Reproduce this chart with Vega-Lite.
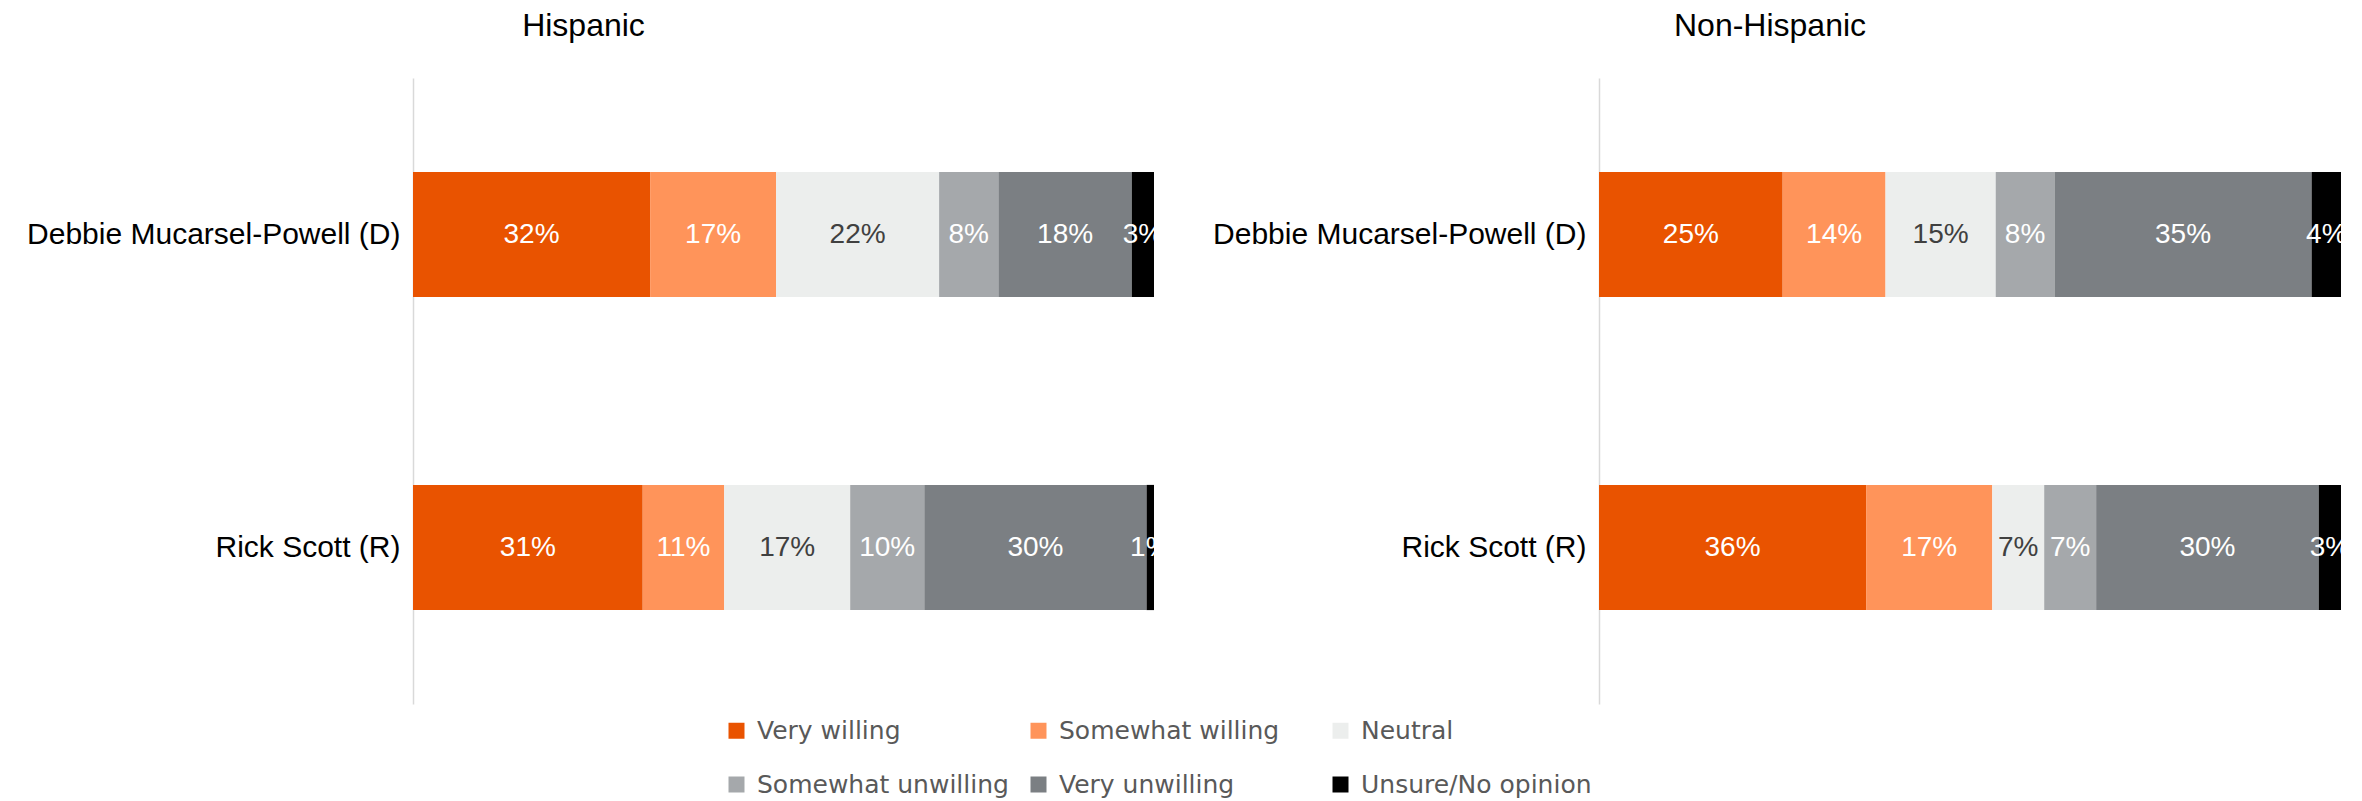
{
  "$schema": "https://vega.github.io/schema/vega-lite/v6.json",
  "padding": {"left": 13, "top": 10, "right": 21, "bottom": 0},
  "background": "white",
  "data": {
    "values": [
      {"group": "Hispanic", "candidate": "Debbie Mucarsel-Powell (D)", "category": "Very willing", "value": 32},
      {"group": "Hispanic", "candidate": "Debbie Mucarsel-Powell (D)", "category": "Somewhat willing", "value": 17},
      {"group": "Hispanic", "candidate": "Debbie Mucarsel-Powell (D)", "category": "Neutral", "value": 22},
      {"group": "Hispanic", "candidate": "Debbie Mucarsel-Powell (D)", "category": "Somewhat unwilling", "value": 8},
      {"group": "Hispanic", "candidate": "Debbie Mucarsel-Powell (D)", "category": "Very unwilling", "value": 18},
      {"group": "Hispanic", "candidate": "Debbie Mucarsel-Powell (D)", "category": "Unsure/No opinion", "value": 3},
      {"group": "Hispanic", "candidate": "Rick Scott (R)", "category": "Very willing", "value": 31},
      {"group": "Hispanic", "candidate": "Rick Scott (R)", "category": "Somewhat willing", "value": 11},
      {"group": "Hispanic", "candidate": "Rick Scott (R)", "category": "Neutral", "value": 17},
      {"group": "Hispanic", "candidate": "Rick Scott (R)", "category": "Somewhat unwilling", "value": 10},
      {"group": "Hispanic", "candidate": "Rick Scott (R)", "category": "Very unwilling", "value": 30},
      {"group": "Hispanic", "candidate": "Rick Scott (R)", "category": "Unsure/No opinion", "value": 1},
      {"group": "Non-Hispanic", "candidate": "Debbie Mucarsel-Powell (D)", "category": "Very willing", "value": 25},
      {"group": "Non-Hispanic", "candidate": "Debbie Mucarsel-Powell (D)", "category": "Somewhat willing", "value": 14},
      {"group": "Non-Hispanic", "candidate": "Debbie Mucarsel-Powell (D)", "category": "Neutral", "value": 15},
      {"group": "Non-Hispanic", "candidate": "Debbie Mucarsel-Powell (D)", "category": "Somewhat unwilling", "value": 8},
      {"group": "Non-Hispanic", "candidate": "Debbie Mucarsel-Powell (D)", "category": "Very unwilling", "value": 35},
      {"group": "Non-Hispanic", "candidate": "Debbie Mucarsel-Powell (D)", "category": "Unsure/No opinion", "value": 4},
      {"group": "Non-Hispanic", "candidate": "Rick Scott (R)", "category": "Very willing", "value": 36},
      {"group": "Non-Hispanic", "candidate": "Rick Scott (R)", "category": "Somewhat willing", "value": 17},
      {"group": "Non-Hispanic", "candidate": "Rick Scott (R)", "category": "Neutral", "value": 7},
      {"group": "Non-Hispanic", "candidate": "Rick Scott (R)", "category": "Somewhat unwilling", "value": 7},
      {"group": "Non-Hispanic", "candidate": "Rick Scott (R)", "category": "Very unwilling", "value": 30},
      {"group": "Non-Hispanic", "candidate": "Rick Scott (R)", "category": "Unsure/No opinion", "value": 3}
    ]
  },
  "spacing": 45,
  "hconcat": [
    {
      "title": {"text": "Hispanic", "frame": "bounds", "anchor": "middle"},
      "width": 741,
      "height": 626,
      "transform": [
        {"filter": "datum.group === 'Hispanic'"},
        {"calculate": "indexof(['Very willing','Somewhat willing','Neutral','Somewhat unwilling','Very unwilling','Unsure/No opinion'], datum.category)", "as": "ord"},
        {"stack": "value", "groupby": ["candidate"], "sort": [{"field": "ord", "order": "ascending"}], "offset": "normalize", "as": ["v0", "v1"]},
        {"calculate": "(datum.v0 + datum.v1) / 2", "as": "mid"},
        {"calculate": "datum.value + '%'", "as": "lab"}
      ],
      "encoding": {
        "y": {"field": "candidate", "type": "nominal", "sort": ["Debbie Mucarsel-Powell (D)", "Rick Scott (R)"], "scale": {"paddingInner": 0.6, "paddingOuter": 0.3}, "axis": {"title": null}}
      },
      "layer": [
        {
          "mark": {"type": "bar"},
          "encoding": {
            "x": {"field": "v0", "type": "quantitative", "scale": {"domain": [0, 1], "nice": false}, "axis": null},
            "x2": {"field": "v1"},
            "color": {
              "field": "category", "type": "nominal",
              "scale": {"domain": ["Very willing", "Somewhat willing", "Neutral", "Somewhat unwilling", "Very unwilling", "Unsure/No opinion"], "range": ["#E95300", "#FF945A", "#ECEEED", "#A5A8AB", "#7B7F83", "#000000"]},
              "legend": {"encode": {"symbols": {
                "enter": {"fill": {"signal": "datum.label === 'Neutral' ? '#BFBFBF' : datum.label === 'Somewhat unwilling' ? '#A5A5A5' : datum.label === 'Very unwilling' ? '#7F7F7F' : scale('color', datum.value)"}},
                "update": {"fill": {"signal": "datum.label === 'Neutral' ? '#BFBFBF' : datum.label === 'Somewhat unwilling' ? '#A5A5A5' : datum.label === 'Very unwilling' ? '#7F7F7F' : scale('color', datum.value)"}}
              }}}
            }
          }
        },
        {
          "mark": {"type": "text", "clip": true, "fontSize": 28, "font": "Liberation Sans", "align": "center", "baseline": "middle"},
          "encoding": {
            "x": {"field": "mid", "type": "quantitative", "scale": {"domain": [0, 1], "nice": false}, "axis": null},
            "text": {"field": "lab", "type": "nominal"},
            "color": {"condition": {"test": "datum.category === 'Neutral'", "value": "#404040"}, "value": "#ffffff"}
          }
        }
      ]
    },
    {
      "title": {"text": "Non-Hispanic", "frame": "bounds", "anchor": "middle"},
      "width": 742,
      "height": 626,
      "transform": [
        {"filter": "datum.group === 'Non-Hispanic'"},
        {"calculate": "indexof(['Very willing','Somewhat willing','Neutral','Somewhat unwilling','Very unwilling','Unsure/No opinion'], datum.category)", "as": "ord"},
        {"stack": "value", "groupby": ["candidate"], "sort": [{"field": "ord", "order": "ascending"}], "offset": "normalize", "as": ["v0", "v1"]},
        {"calculate": "(datum.v0 + datum.v1) / 2", "as": "mid"},
        {"calculate": "datum.value + '%'", "as": "lab"}
      ],
      "encoding": {
        "y": {"field": "candidate", "type": "nominal", "sort": ["Debbie Mucarsel-Powell (D)", "Rick Scott (R)"], "scale": {"paddingInner": 0.6, "paddingOuter": 0.3}, "axis": {"title": null}}
      },
      "layer": [
        {
          "mark": {"type": "bar"},
          "encoding": {
            "x": {"field": "v0", "type": "quantitative", "scale": {"domain": [0, 1], "nice": false}, "axis": null},
            "x2": {"field": "v1"},
            "color": {
              "field": "category", "type": "nominal",
              "scale": {"domain": ["Very willing", "Somewhat willing", "Neutral", "Somewhat unwilling", "Very unwilling", "Unsure/No opinion"], "range": ["#E95300", "#FF945A", "#ECEEED", "#A5A8AB", "#7B7F83", "#000000"]},
              "legend": {"encode": {"symbols": {
                "enter": {"fill": {"signal": "datum.label === 'Neutral' ? '#BFBFBF' : datum.label === 'Somewhat unwilling' ? '#A5A5A5' : datum.label === 'Very unwilling' ? '#7F7F7F' : scale('color', datum.value)"}},
                "update": {"fill": {"signal": "datum.label === 'Neutral' ? '#BFBFBF' : datum.label === 'Somewhat unwilling' ? '#A5A5A5' : datum.label === 'Very unwilling' ? '#7F7F7F' : scale('color', datum.value)"}}
              }}}
            }
          }
        },
        {
          "mark": {"type": "text", "clip": true, "fontSize": 28, "font": "Liberation Sans", "align": "center", "baseline": "middle"},
          "encoding": {
            "x": {"field": "mid", "type": "quantitative", "scale": {"domain": [0, 1], "nice": false}, "axis": null},
            "text": {"field": "lab", "type": "nominal"},
            "color": {"condition": {"test": "datum.category === 'Neutral'", "value": "#404040"}, "value": "#ffffff"}
          }
        }
      ]
    }
  ],
  "resolve": {"scale": {"color": "shared"}},
  "config": {
    "view": {"stroke": null},
    "font": "Liberation Sans",
    "title": {"fontSize": 32, "font": "Liberation Sans", "fontWeight": "normal", "color": "#000000", "offset": 35},
    "axisY": {"domainColor": "#D9D9D9", "domainWidth": 1.5, "ticks": false, "labelFontSize": 30, "labelFont": "Liberation Sans", "labelColor": "#000000", "labelPadding": 13, "labelLimit": 420, "minExtent": 400, "maxExtent": 400, "grid": false},
    "legend": {
      "orient": "none", "legendX": 311, "legendY": 640, "direction": "horizontal",
      "title": null, "columns": 3, "gridAlign": "all", "columnPadding": 17, "rowPadding": 28,
      "symbolType": "square", "symbolSize": 256, "symbolStrokeWidth": 0, "symbolOpacity": 1,
      "labelFont": "DejaVu Sans", "labelFontSize": 25, "labelColor": "#595959", "labelOffset": 8, "labelLimit": 400
    }
  }
}
